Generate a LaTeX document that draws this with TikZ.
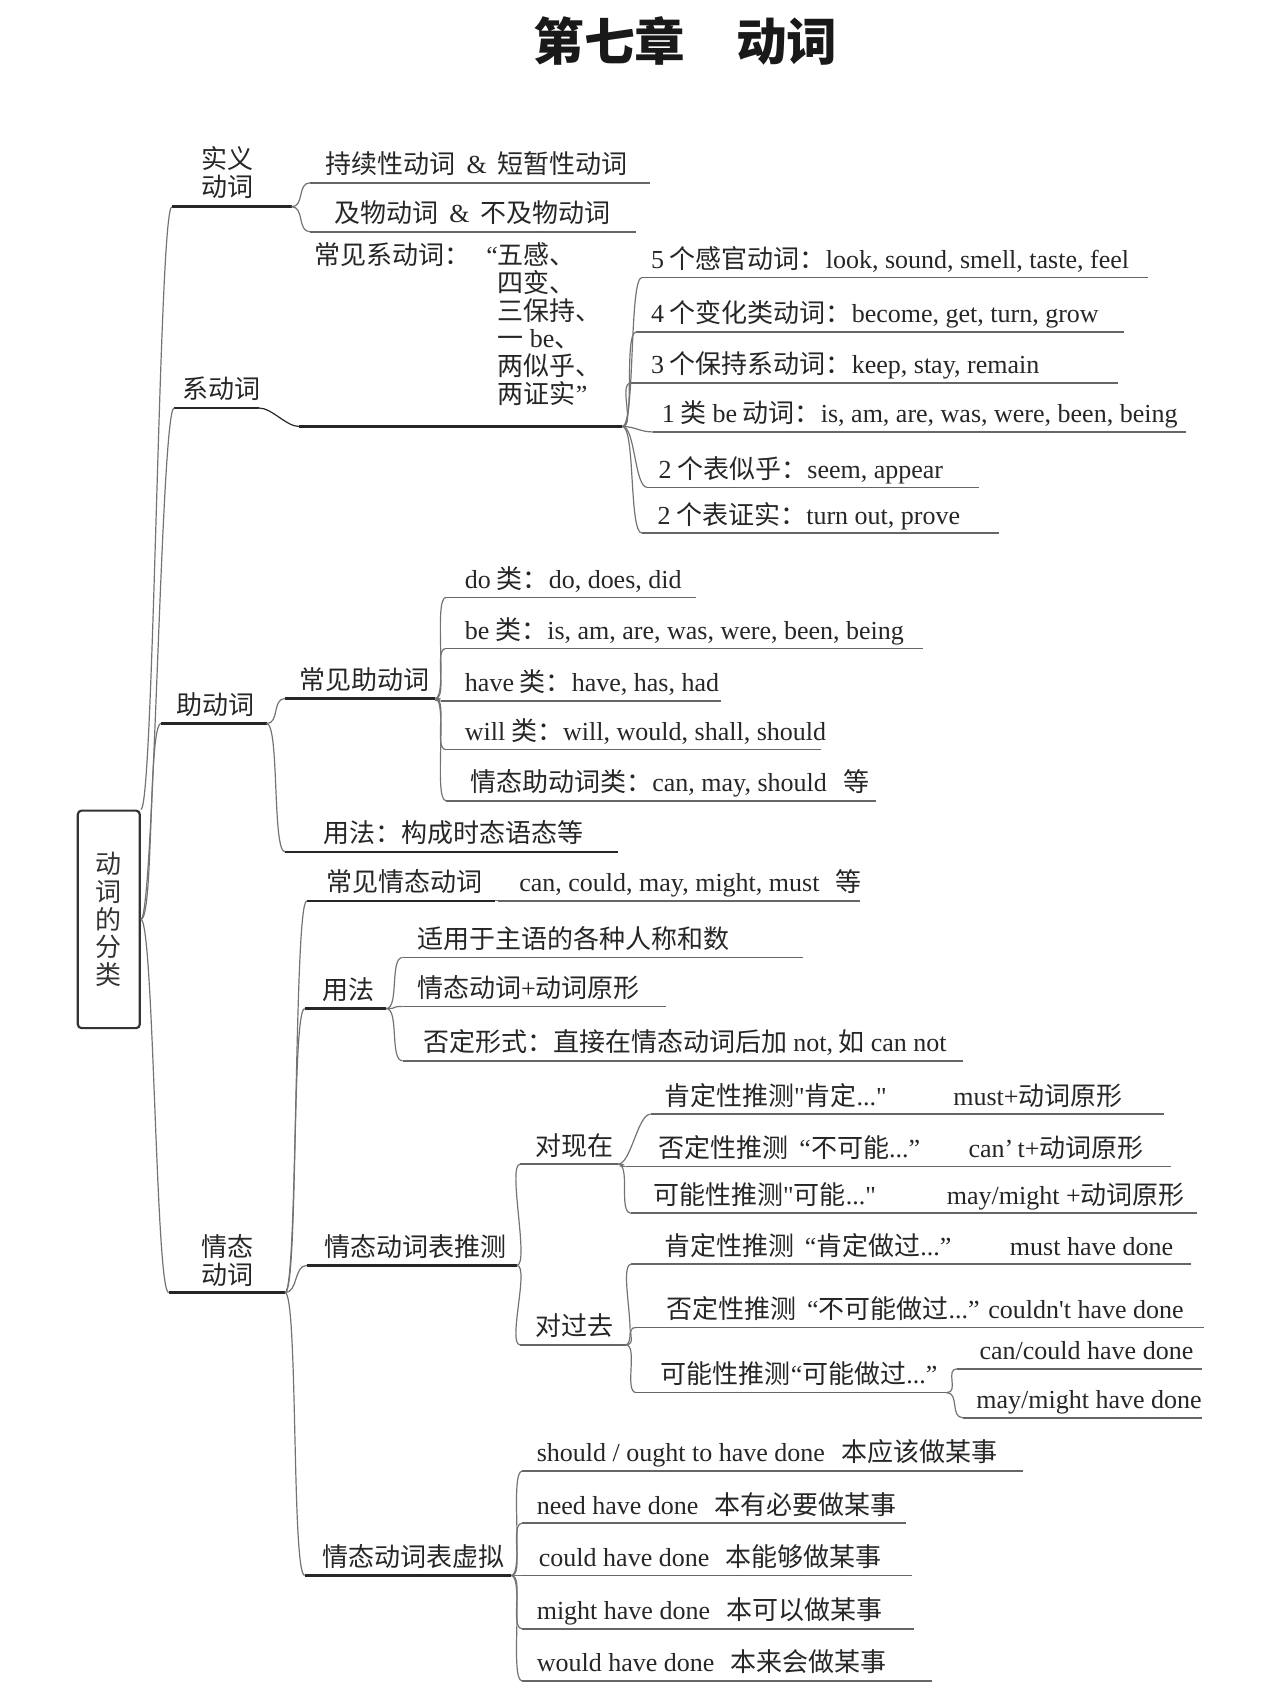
\documentclass[tikz,border=0pt]{standalone}
\usepackage{fontspec}
\setmainfont{Noto Sans CJK SC}
\newfontfamily\enfont{Liberation Serif}
\newcommand{\en}[1]{{\enfont #1}}

% a topic is text sitting on a line; (name-e) is the right end of that line
\newcommand{\topic}[6][]{%
  \node[topic,#1] (#2) at (#3,#4) {#6};
  \draw[uline] (#2.south west) -- ++(#5,0) coordinate (#2-e);}
\newcommand{\maintopic}[6][]{%
  \node[topic,#1] (#2) at (#3,#4) {#6};
  \draw[mline] (#2.south west) -- ++(#5,0) coordinate (#2-e);}

\begin{document}
\begin{tikzpicture}[
    x=0.02cm, y=-0.02cm,
    font=\fontsize{13.6pt}{14.5pt}\selectfont,
    topic/.style={anchor=south west, inner xsep=0.28cm, inner ysep=0.08cm, text height=0.36cm, text depth=0.08cm, text=black!85},
    multi/.style={text height={}, text depth={}},
    uline/.style={draw=black!60, line width=0.03cm},
    mline/.style={draw=black!85, line width=0.045cm},
    link/.style={draw=black!55, line width=0.022cm, to path={.. controls +(12,0) and +(-12,0) .. (\tikztotarget)}}
]
\useasboundingbox (0,0) rectangle (1176,1568);

\node[font=\fontsize{26.5pt}{30pt}\selectfont\bfseries, text=black!90] (title) at (630,38) {第七章　动词};
\node[draw=black!80, line width=0.04cm, rounded corners=2pt, minimum width=1.14cm, minimum height=4cm, align=center, text=black!80] (root) at (100,845) {动\\词\\的\\分\\类};

% main branches
\maintopic[multi, align=center, inner xsep=0.54cm, inner ysep=0.14cm]{shiyi}{158}{190}{110}{实义\\动词}
\maintopic[inner xsep=0.14cm]{xi}{160}{375}{78}{系动词}
\maintopic{zhu}{148}{665}{97}{助动词}
\maintopic[multi, align=center, inner xsep=0.6cm, inner ysep=0.1cm]{qingtai}{155}{1188}{107}{情态\\动词}

% 实义动词
\topic{cx}{285}{168}{312}{持续性动词\hspace{0.2cm}\en{\&}\hspace{0.2cm}短暂性动词}
\topic[inner xsep=0.44cm]{jw}{285}{213}{300}{及物动词\hspace{0.2cm}\en{\&}\hspace{0.2cm}不及物动词}

% 系动词
\maintopic[multi, align=left, inner ysep=0.38cm]{cj}{275}{392}{297}{常见系动词：\hspace{0.5cm}\llap{\en{“}}五感、\\
  \hphantom{常见系动词：}\hspace{0.5cm}四变、\\
  \hphantom{常见系动词：}\hspace{0.5cm}三保持、\\
  \hphantom{常见系动词：}\hspace{0.5cm}一 \en{be}、\\
  \hphantom{常见系动词：}\hspace{0.5cm}两似乎、\\
  \hphantom{常见系动词：}\hspace{0.5cm}两证实\en{”}}
\topic[inner xsep=0.16cm]{g5}{590}{255}{465}{\en{5} 个感官动词：\en{look, sound, smell, taste, feel}}
\topic[inner xsep=0.26cm]{g4}{585}{305}{448}{\en{4} 个变化类动词：\en{become, get, turn, grow}}
\topic[inner xsep=0.36cm]{g3}{580}{352}{448}{\en{3} 个保持系动词：\en{keep, stay, remain}}
\topic[inner xsep=0.16cm]{g1}{600}{397}{490}{\en{1} 类 \en{be} 动词：\en{is, am, are, was, were, been, being}}
\topic[inner xsep=0.2cm]{g2a}{595}{448}{305}{\en{2} 个表似乎：\en{seem, appear}}
\topic{g2b}{590}{490}{328}{\en{2} 个表证实：\en{turn out, prove}}

% 助动词
\maintopic[inner xsep=0.26cm]{cjz}{262}{642}{138}{常见助动词}
\maintopic[inner xsep=0.7cm]{yf1}{262}{783}{306}{用法：构成时态语态等}
\topic[inner xsep=0.34cm]{tdo}{410}{549}{230}{\en{do} 类：\en{do, does, did}}
\topic[inner xsep=0.34cm]{tbe}{410}{596}{438}{\en{be} 类：\en{is, am, are, was, were, been, being}}
\topic[inner xsep=0.44cm]{thave}{405}{644}{258}{\en{have} 类：\en{have, has, had}}
\topic[inner xsep=0.34cm]{twill}{410}{689}{345}{\en{will} 类：\en{will, would, shall, should}}
\topic[inner xsep=0.44cm]{tmodal}{410}{736}{395}{情态助动词类：\en{can, may, should}\hspace{0.3cm}等}

% 情态动词
\maintopic[inner xsep=0.36cm]{cjq}{282}{828}{173}{常见情态动词}
\topic[inner xsep=0.38cm]{md}{458}{828}{332}{\en{can, could, may, might, must}\hspace{0.3cm}等}
\maintopic[inner xsep=0.32cm]{yf2}{280}{927}{75}{用法}
\topic[inner xsep=0.26cm]{sy}{370}{880}{368}{适用于主语的各种人称和数}
\topic[inner xsep=0.26cm]{yx}{370}{925}{242}{情态动词\en{+}动词原形}
\topic[inner xsep=0.38cm]{fd}{370}{975}{515}{否定形式：直接在情态动词后加 \en{not,} 如 \en{can not}}

\maintopic[inner xsep=0.32cm]{tc}{282}{1163}{193}{情态动词表推测}
\topic{xz}{478}{1070}{90}{对现在}
\topic{gq}{478}{1236}{97}{对过去}
\topic[inner xsep=0.24cm]{p1}{598}{1024}{472}{\makebox[5.32cm][l]{肯定性推测\en{"}肯定\en{..."}}\en{must+}动词原形}
\topic[inner xsep=0.6cm]{p2}{575}{1072}{501}{\makebox[5.7cm][l]{否定性推测\hspace{0.2cm}\en{“}不可能\en{...”}}\en{can’\,t+}动词原形}
\topic[inner xsep=0.4cm]{p3}{580}{1115}{520}{\makebox[5.4cm][l]{可能性推测\en{"}可能\en{..."}}\en{may/might +}动词原形}
\topic[inner xsep=0.6cm]{q1}{580}{1162}{515}{\makebox[6.36cm][l]{肯定性推测\hspace{0.2cm}\en{“}肯定做过\en{...”}}\en{must have done}}
\topic[inner xsep=0.54cm]{q2}{585}{1220}{522}{否定性推测\hspace{0.2cm}\en{“}不可能做过\en{...” couldn't have done}}
\topic[inner xsep=0.44cm]{q3}{585}{1280}{285}{可能性推测\en{“}可能做过\en{...”}}
\topic[inner xsep=0.4cm]{q3a}{880}{1258}{225}{\en{can/could have done}}
\topic[inner xsep=0.24cm]{q3b}{885}{1303}{220}{\en{may/might have done}}

\maintopic[inner xsep=0.32cm]{xn}{280}{1448}{190}{情态动词表虚拟}
\topic[inner xsep=0.26cm]{v1}{480}{1352}{460}{\en{should / ought to have done}\hspace{0.3cm}本应该做某事}
\topic[inner xsep=0.26cm]{v2}{480}{1400}{353}{\en{need have done}\hspace{0.3cm}本有必要做某事}
\topic[inner xsep=0.3cm]{v3}{480}{1448}{358}{\en{could have done}\hspace{0.3cm}本能够做某事}
\topic[inner xsep=0.26cm]{v4}{480}{1497}{360}{\en{might have done}\hspace{0.3cm}本可以做某事}
\topic[inner xsep=0.26cm]{v5}{480}{1545}{377}{\en{would have done}\hspace{0.3cm}本来会做某事}

% connectors
\draw[link] (root.north east) to (shiyi.south west);
\draw[link] (root.east) to (xi.south west);
\draw[link] (root.east) to (zhu.south west);
\draw[link] (root.east) to (qingtai.south west);
\draw[link] (shiyi-e) to (cx.south west);
\draw[link] (shiyi-e) to (jw.south west);
\draw[link, draw=black!85] (xi-e) to (cj.south west);
\draw[link] (cj-e) to (g5.south west);
\draw[link] (cj-e) to (g4.south west);
\draw[link] (cj-e) to (g3.south west);
\draw[link] (cj-e) to (g1.south west);
\draw[link] (cj-e) to (g2a.south west);
\draw[link] (cj-e) to (g2b.south west);
\draw[link] (zhu-e) to (cjz.south west);
\draw[link] (zhu-e) to (yf1.south west);
\draw[link] (cjz-e) to (tdo.south west);
\draw[link] (cjz-e) to (tbe.south west);
\draw[link] (cjz-e) to (thave.south west);
\draw[link] (cjz-e) to (twill.south west);
\draw[link] (cjz-e) to (tmodal.south west);
\draw[link] (qingtai-e) to (cjq.south west);
\draw[link] (qingtai-e) to (yf2.south west);
\draw[link] (qingtai-e) to (tc.south west);
\draw[link] (qingtai-e) to (xn.south west);
\draw[link] (cjq-e) -- (md.south west);
\draw[link] (yf2-e) to (sy.south west);
\draw[link] (yf2-e) to (yx.south west);
\draw[link] (yf2-e) to (fd.south west);
\draw[link] (tc-e) to (xz.south west);
\draw[link] (tc-e) to (gq.south west);
\draw[link] (xz-e) to (p1.south west);
\draw[link] (xz-e) to (p2.south west);
\draw[link] (xz-e) to (p3.south west);
\draw[link] (gq-e) to (q1.south west);
\draw[link] (gq-e) to (q2.south west);
\draw[link] (gq-e) to (q3.south west);
\draw[link] (q3-e) to (q3a.south west);
\draw[link] (q3-e) to (q3b.south west);
\draw[link] (xn-e) to (v1.south west);
\draw[link] (xn-e) to (v2.south west);
\draw[link] (xn-e) to (v3.south west);
\draw[link] (xn-e) to (v4.south west);
\draw[link] (xn-e) to (v5.south west);
\end{tikzpicture}
\end{document}
